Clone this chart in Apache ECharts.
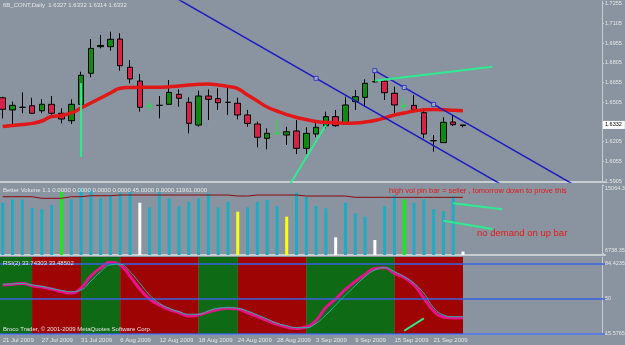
<!DOCTYPE html>
<html><head><meta charset="utf-8">
<script src="https://cdn.jsdelivr.net/npm/echarts@6/dist/echarts.min.js"></script>
<style>html,body{margin:0;padding:0;background:#8994A0;}#c{width:625px;height:345px;}</style>
</head><body><div id="c"></div>
<script>
// ---------- data ----------
const dates = ['21 Jul 2009','22 Jul 2009','23 Jul 2009','24 Jul 2009','27 Jul 2009','28 Jul 2009','29 Jul 2009','30 Jul 2009','31 Jul 2009',
'3 Aug 2009','4 Aug 2009','5 Aug 2009','6 Aug 2009','7 Aug 2009','10 Aug 2009','11 Aug 2009','12 Aug 2009','13 Aug 2009','14 Aug 2009',
'17 Aug 2009','18 Aug 2009','19 Aug 2009','20 Aug 2009','21 Aug 2009','24 Aug 2009','25 Aug 2009','26 Aug 2009','27 Aug 2009','28 Aug 2009',
'31 Aug 2009','1 Sep 2009','2 Sep 2009','3 Sep 2009','4 Sep 2009','7 Sep 2009','8 Sep 2009','9 Sep 2009','10 Sep 2009','11 Sep 2009',
'14 Sep 2009','15 Sep 2009','16 Sep 2009','17 Sep 2009','18 Sep 2009','21 Sep 2009','22 Sep 2009','23 Sep 2009','24 Sep 2009'];
const tickDates = ['21 Jul 2009','27 Jul 2009','31 Jul 2009','6 Aug 2009','12 Aug 2009','18 Aug 2009','24 Aug 2009','28 Aug 2009','3 Sep 2009','9 Sep 2009','15 Sep 2009','21 Sep 2009'];
const emptySlots = 14;

const opens  = [1.6539,1.6446,1.6466,1.6478,1.6440,1.6489,1.6421,1.6364,1.6489,1.6725,1.6928,1.6928,1.6986,1.6771,1.6666,1.6476,1.6481,1.6489,1.6565,1.6504,1.6331,1.6552,1.6532,1.6504,1.6497,1.6408,1.6339,1.6230,1.6268,1.6255,1.6286,1.6154,1.6263,1.6326,1.6395,1.6349,1.6509,1.6542,1.6661,1.6666,1.6573,1.6476,1.6481,1.6425,1.6212,1.6197,1.6354,1.6327];
const closes = [1.6451,1.6481,1.6466,1.6421,1.6489,1.6421,1.6377,1.6489,1.6710,1.6915,1.6937,1.6984,1.6783,1.6682,1.6466,1.6476,1.6481,1.6580,1.6535,1.6344,1.6552,1.6527,1.6501,1.6504,1.6408,1.6344,1.6238,1.6268,1.6268,1.6280,1.6154,1.6268,1.6314,1.6395,1.6326,1.6484,1.6547,1.6649,1.6661,1.6577,1.6484,1.6476,1.6446,1.6263,1.6212,1.6352,1.6334,1.6332];
const lows   = [1.6382,1.6331,1.6421,1.6418,1.6421,1.6408,1.6344,1.6339,1.6459,1.6695,1.6915,1.6897,1.6745,1.6649,1.6433,1.6440,1.6382,1.6489,1.6471,1.6268,1.6318,1.6369,1.6446,1.6408,1.6375,1.6318,1.6162,1.6146,1.6255,1.6179,1.6111,1.6111,1.6238,1.6306,1.6318,1.6339,1.6446,1.6471,1.6654,1.6522,1.6421,1.6446,1.6433,1.6230,1.6128,1.6197,1.6324,1.6314];
const highs  = [1.6547,1.6509,1.6580,1.6539,1.6529,1.6552,1.6459,1.6527,1.6737,1.6986,1.7017,1.7042,1.7030,1.6826,1.6720,1.6509,1.6552,1.6674,1.6603,1.6542,1.6593,1.6603,1.6611,1.6618,1.6539,1.6446,1.6357,1.6306,1.6375,1.6318,1.6369,1.6314,1.6357,1.6433,1.6446,1.6547,1.6598,1.6679,1.6745,1.6674,1.6623,1.6535,1.6560,1.6459,1.6255,1.6390,1.6408,1.6332];
const maValues = [1.6320,1.6328,1.6335,1.6344,1.6362,1.6396,1.6404,1.6423,1.6461,1.6499,1.6537,1.6575,1.6611,1.6617,1.6618,1.6618,1.6618,1.6623,1.6628,1.6636,1.6641,1.6644,1.6636,1.6625,1.6609,1.6560,1.6514,1.6468,1.6438,1.6411,1.6389,1.6373,1.6358,1.6352,1.6349,1.6345,1.6347,1.6354,1.6366,1.6385,1.6408,1.6423,1.6438,1.6446,1.6449,1.6448,1.6443,1.6440];
const greenDojiBars = [15, 28, 41];

const volumes = [12895,13311,13311,12283,12087,12613,14241,13311,14657,14449,13433,13837,14119,14241,12895,12332,14241,13433,12491,13017,13433,14045,12332,13017,11793,12332,13017,13225,12491,11181,14119,13592,12491,12209,8660,12895,11597,11181,8329,12491,13837,13311,12895,13311,12087,11879,13715,6920];
const volumeKinds = ['n','n','n','n','n','n','g','n','n','n','n','n','n','n','w','n','n','n','n','n','n','n','n','n','y','n','n','n','n','y','n','n','n','n','w','n','n','n','w','n','n','g','n','n','n','n','n','w'];
const volumeAvg = [13629,13629,13629,13629,13433,13433,13433,13629,13629,13751,13751,13751,13837,13837,13837,13837,13837,13837,13837,13837,13837,13837,13837,13837,13715,13715,13837,13837,13837,13837,13837,13715,13715,13715,13715,13715,13555,13555,13555,13555,13555,13555,13555,13555,13555,13555,13555,13555];

const rsiMain   = [63.1,63.8,64.6,62.4,61.1,59.1,56.7,55.2,60.1,71.9,79.8,85.4,82.8,71.9,59.1,49.3,43.4,39.0,36.0,32.6,33.6,36.5,39.0,40.2,39.5,36.0,32.1,28.2,24.7,21.8,20.3,21.8,28.2,41.0,49.3,58.7,66.5,73.4,79.3,80.1,74.4,70.5,63.1,50.3,37.5,31.6,30.6,30.9];
const rsiSignal = [63.8,64.1,64.6,63.1,61.6,59.6,57.7,56.5,58.2,67.0,76.2,82.8,83.4,76.2,64.8,53.2,45.1,40.2,36.8,34.3,34.3,37.5,40.2,40.8,40.2,37.5,33.6,29.6,25.4,23.1,21.1,21.1,25.4,33.6,43.4,53.2,62.4,71.2,77.8,80.1,76.2,71.2,64.8,54.9,40.8,33.6,31.9,31.9];
const rsiBands = [[0,3,1],[3,8,0],[8,12,1],[12,20,0],[20,24,1],[24,31,0],[31,40,1],[40,47,0]];
const rsiLevels = [84.4235, 50, 15.5765];

const priceTicks = [1.5905,1.6055,1.6205,1.6505,1.6655,1.6805,1.6955,1.7105,1.7255];
const volumeTicks = [6738.35, 15064.3];

// drawn objects: [barIndex, value]
const channelLow  = [[17,1.7328],[51,1.5875]];
const channelHigh = [[38,1.6745],[60,1.5805]];
const channelAnchors = [[32,1.6687],[38,1.6745],[41,1.6617],[44,1.6488]];
const greenVert  = [[8,1.6651],[8,1.6088]];
const greenRise  = [[29,1.5839],[33,1.6331]];
const greenUpper = [[38,1.6669],[50,1.6775]];
const volLine1 = [[46,12821],[51,12087]];
const volLine2 = [[45,10692],[50,9676]];
const rsiLine  = [[41,18.1],[43,30.3]];

// ---------- chart ----------
const categories = dates.concat(Array.from({length: emptySlots}, (_, i) => '#' + i));
const FONT = 'Liberation Sans';
const TXT = '#E6E6E6';
const SEP = '#C8CDD2';
const BLUE = '#1C1CC0';
const SPRING = '#2EEB8E';
const gridL = -2.2, gridW = 607.2;
const Y_PRICE = 0, Y_BOX = 1, Y_VOL = 2, Y_RSI = 3;

const candleData = opens.map((o, i) => {
  const item = {value: [o, closes[i], lows[i], highs[i]]};
  if (greenDojiBars.includes(i)) item.itemStyle = {borderColor: '#22E040', borderColor0: '#22E040', borderColorDoji: '#22E040'};
  return item;
});
const volColors = {n: '#21ABC3', w: '#FFFFFF', g: '#11F011', y: '#FFFF10'};
const volData = volumes.map((v, i) => ({value: v, itemStyle: {color: volColors[volumeKinds[i]]}}));

function xAx(gi, showLabels) {
  return {
    type: 'category', gridIndex: gi, data: categories, boundaryGap: true,
    axisLine: {show: true, onZero: false, lineStyle: {color: SEP, width: 2}},
    axisTick: {show: false},
    axisLabel: showLabels ? {
      show: true, interval: (i, v) => tickDates.includes(v), align: 'left', margin: 3,
      fontSize: 6, color: TXT, fontFamily: FONT
    } : {show: false},
    splitLine: {show: false}
  };
}
function seg(name, xi, yi, pts, color, width) {
  return {name, type: 'line', xAxisIndex: xi, yAxisIndex: yi, data: pts, symbol: 'none',
    clip: true, silent: true, z: 6, lineStyle: {color, width}};
}
function gridAt(top, height) {
  return {left: gridL, top, width: gridW, height, containLabel: false, outerBoundsMode: 'none'};
}
const labelStyle = {fontSize: 5.5, color: TXT, fontFamily: FONT, margin: 3};
const plain = {fontSize: 6, color: TXT, fontWeight: 'normal'};

const option = {
  backgroundColor: '#8994A0',
  animation: false,
  textStyle: {fontFamily: FONT},
  title: [
    {text: '6B_CONT,Daily  1.6327 1.6332 1.6314 1.6332', left: 3, top: 2.5, padding: 0, textStyle: plain},
    {text: 'Better Volume 1.1 0.0000 0.0000 0.0000 0.0000 45.0000 0.0000 11961.0000', left: 3, top: 187, padding: 0, textStyle: plain},
    {text: 'high vol pin bar = seller , tomorrow down to prove this', left: 389, top: 186.5, padding: 0, textStyle: {fontSize: 7.5, color: '#E81818', fontWeight: 'normal'}},
    {text: 'no demand on up bar', left: 477, top: 228.5, padding: 0, textStyle: {fontSize: 9.5, color: '#E81818', fontWeight: 'normal'}},
    {text: 'RSI(2) 33.74303 33.48502', left: 3, top: 260.5, padding: 0, textStyle: plain},
    {text: 'Broco Trader, \u00A9 2001-2009 MetaQuotes Software Corp.', left: 3, top: 326, padding: 0, textStyle: plain}
  ],
  grid: [gridAt(1, 181), gridAt(185, 70), gridAt(257, 77)],
  xAxis: [xAx(0, false), xAx(1, false), xAx(2, true)],
  yAxis: [
    {type: 'value', gridIndex: 0, position: 'right', offset: -3, min: 1.58974, max: 1.72756, scale: true,
      axisLine: {show: true, lineStyle: {color: SEP, width: 1}},
      axisTick: {show: true, length: 2, customValues: priceTicks, lineStyle: {color: SEP}},
      axisLabel: Object.assign({customValues: priceTicks, formatter: v => v.toFixed(4)}, labelStyle),
      splitLine: {show: false}},
    {type: 'value', gridIndex: 0, position: 'right', offset: -3, min: 1.58974, max: 1.72756, scale: true,
      axisLine: {show: false}, axisTick: {show: false}, splitLine: {show: false},
      axisLabel: {customValues: [closes[closes.length - 1]], formatter: v => v.toFixed(4), fontSize: 5.5, color: '#000000',
        backgroundColor: '#FFFFFF', padding: [1, 3, 1, 2], margin: 1, fontFamily: FONT}},
    {type: 'value', gridIndex: 1, position: 'right', offset: -3, min: 6493, max: 15064.3, scale: true,
      axisLine: {show: true, lineStyle: {color: SEP, width: 1}},
      axisTick: {show: true, length: 2, customValues: volumeTicks, lineStyle: {color: SEP}},
      axisLabel: Object.assign({customValues: volumeTicks, formatter: v => String(v), verticalAlignMaxLabel: 'top', verticalAlignMinLabel: 'bottom'}, labelStyle),
      splitLine: {show: false}},
    {type: 'value', gridIndex: 2, position: 'right', offset: -3, min: 14.89, max: 90.62, scale: true,
      axisLine: {show: true, lineStyle: {color: SEP, width: 1}},
      axisTick: {show: true, length: 2, customValues: rsiLevels, lineStyle: {color: SEP}},
      axisLabel: Object.assign({customValues: rsiLevels, formatter: v => String(v), padding: [0, 0, 3, 0]}, labelStyle),
      splitLine: {show: false}}
  ],
  series: [
    {name: 'price', type: 'candlestick', xAxisIndex: 0, yAxisIndex: Y_PRICE, data: candleData, barWidth: 6, z: 3, silent: true,
      itemStyle: {color: '#0C8C10', color0: '#D62248', borderColor: '#000000', borderColor0: '#000000', borderColorDoji: '#000000', borderWidth: 1}},
    {name: 'MA', type: 'line', xAxisIndex: 0, yAxisIndex: Y_PRICE, data: maValues, smooth: true, symbol: 'none', z: 4, silent: true,
      lineStyle: {color: '#E01818', width: 3.5}},
    seg('channelLow', 0, Y_PRICE, channelLow, BLUE, 1.5),
    seg('channelHigh', 0, Y_PRICE, channelHigh, BLUE, 1.5),
    {name: 'anchors', type: 'scatter', xAxisIndex: 0, yAxisIndex: Y_PRICE, data: channelAnchors, symbol: 'rect', symbolSize: 4, z: 7, silent: true,
      itemStyle: {color: '#B8C0CC', borderColor: '#2020C8', borderWidth: 1}},
    seg('greenVert', 0, Y_PRICE, greenVert, SPRING, 2),
    seg('greenRise', 0, Y_PRICE, greenRise, SPRING, 2),
    seg('greenUpper', 0, Y_PRICE, greenUpper, SPRING, 2),
    {name: 'volume', type: 'bar', xAxisIndex: 1, yAxisIndex: Y_VOL, data: volData, barWidth: 3, clip: true, silent: true, z: 3},
    {name: 'volAvg', type: 'line', xAxisIndex: 1, yAxisIndex: Y_VOL, data: volumeAvg, symbol: 'none', silent: true, z: 4,
      lineStyle: {color: '#8B0A0A', width: 1}},
    seg('volLine1', 1, Y_VOL, volLine1, SPRING, 2),
    seg('volLine2', 1, Y_VOL, volLine2, SPRING, 2),
    {name: 'bands', type: 'custom', xAxisIndex: 2, yAxisIndex: Y_RSI, data: rsiBands.map(b => [b[0], b[1]]), z: 1, silent: true, clip: true,
      renderItem: (params, api) => {
        const cs = params.coordSys;
        const s = api.value(0), e = api.value(1);
        const x0 = s === 0 ? cs.x : api.coord([s, 50])[0];
        const x1 = api.coord([e, 50])[0];
        return {type: 'rect', shape: {x: x0, y: cs.y, width: x1 - x0, height: cs.height},
          style: {fill: rsiBands[params.dataIndex][2] ? '#0E6A14' : '#9E0404'}};
      }},
    {name: 'RSI', type: 'line', xAxisIndex: 2, yAxisIndex: Y_RSI, data: rsiMain, smooth: true, symbol: 'none', silent: true, z: 4,
      lineStyle: {color: '#E5138C', width: 3}},
    {name: 'signal', type: 'line', xAxisIndex: 2, yAxisIndex: Y_RSI, data: rsiSignal, smooth: true, symbol: 'none', silent: true, z: 5,
      lineStyle: {color: '#22B8A8', width: 1},
      markLine: {silent: true, symbol: 'none', label: {show: false}, lineStyle: {color: '#3A62E2', width: 1.5, type: 'solid'},
        data: rsiLevels.map(v => ({yAxis: v}))}},
    seg('rsiLine', 2, Y_RSI, rsiLine, SPRING, 2)
  ]
};
const chart = echarts.init(document.getElementById('c'), null, {renderer: 'canvas'});
chart.setOption(option);
</script></body></html>
